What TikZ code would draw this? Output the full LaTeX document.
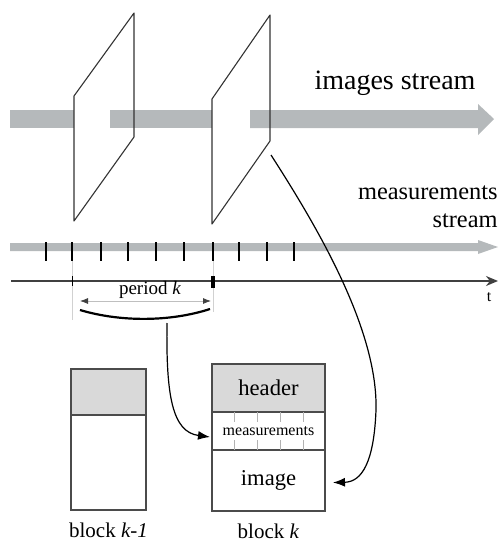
\documentclass[tikz,border=0pt]{standalone}
\usepackage{fontspec}
\setmainfont{Liberation Serif}
\usetikzlibrary{arrows.meta,positioning}

\definecolor{barcol}{RGB}{181,185,187}
\definecolor{hdrcol}{RGB}{217,217,217}
\definecolor{edgecol}{RGB}{75,75,75}

\tikzset{
  framepane/.style={draw=black!80, line width=0.55pt, line join=round},
  cell/.style={draw=edgecol, line width=0.7pt, inner sep=0pt, outer sep=0pt},
  guide/.style={draw=black!18, line width=0.4pt},
  tickmark/.style={draw=black, line width=1.1pt},
  conn/.style={line width=0.6pt, -{Latex[length=6pt,width=4.5pt]}},
  streamlbl/.style={anchor=base east, inner sep=0pt, font=\fontsize{12.2}{14}\selectfont},
}

\begin{document}
\begin{tikzpicture}[x=0.5pt,y=-0.5pt]
\useasboundingbox (0,0) rectangle (499,541);
%
% images stream
\fill[barcol] (10,110) rectangle (74,128);
\fill[barcol] (110,110) rectangle (212,128);
\fill[barcol] (250,110) -- (478,110) -- (478,104) -- (494,119)
  -- (478,135) -- (478,128) -- (250,128) -- cycle;
\node[anchor=base, font=\fontsize{14}{16}\selectfont] (imgtxt) at (395,89) {images stream};
%
% frames
\draw[framepane] (74,96) -- (134,13) -- (134,137) -- (74,221) -- cycle;
\draw[framepane] (212,99) -- (270,15) -- (270,141) -- (212,224) -- cycle;
\coordinate (frameout) at (271,155);
%
% measurements stream
\fill[barcol] (10,243) -- (478,243) -- (478,240) -- (498,247)
  -- (478,254) -- (478,251) -- (10,251) -- cycle;
\foreach \x in {46,72,101,128,156,184,213,239,267,294}
  \draw[tickmark] (\x,242) -- (\x,261);
\node[streamlbl] (meastxt) at (498,199) {measurements};
\node[streamlbl] (meastxt2) at (498,227) {stream};
%
% time axis
\draw[line width=0.8pt, black!75, -{Stealth[length=6pt,width=5pt]}] (11,281) -- (498,281);
\node[font=\fontsize{8}{9}\selectfont] (tlbl) at (489,297) {t};
\draw[guide] (72,261) -- (72,320);
\draw[guide] (213,261) -- (213,312);
\draw[line width=0.4pt] (72,276) -- (72,286);
\fill (211,276) rectangle (215,288);
%
% period k
\draw[black!25, line width=0.4pt,
  {Latex[black!75,length=4pt,width=3pt]}-{Latex[black!75,length=4pt,width=3pt]}]
  (80,301) -- (211,301);
\node[font=\fontsize{9.5}{11}\selectfont] (perlbl) at (150,290) {period \textit{k}};
\draw[line width=1.1pt] (80,310) .. controls (120,322) and (170,322) .. (210,309);
\coordinate (bracetip) at (167,323);
%
% block k-1
\node[cell, fill=hdrcol, minimum width=37.5pt, minimum height=23pt] (prevhdr) at (108.5,392) {};
\node[cell, below=0pt of prevhdr, minimum width=37.5pt, minimum height=47.5pt] (prevbody) {};
\node[below=3pt of prevbody, font=\fontsize{10.5}{12}\selectfont] (prevlbl) {block \textit{k-1}};
%
% block k
\node[cell, fill=hdrcol, minimum width=56.5pt, minimum height=24pt,
  font=\fontsize{11.3}{13}\selectfont] (hdr) at (268.5,388) {header};
\node[cell, below=0pt of hdr, minimum width=56.5pt, minimum height=19pt,
  font=\fontsize{8}{9}\selectfont] (meas) {measurements};
\node[cell, below=0pt of meas, minimum width=56.5pt, minimum height=30.5pt,
  font=\fontsize{11.3}{13}\selectfont] (img) {image};
\node[below=3pt of img, font=\fontsize{10.5}{12}\selectfont] (curlbl) {block \textit{k}};
\foreach \x in {234,257,280,303} {
  \draw[guide, draw=black!30] (\x,412) -- (\x,422);
  \draw[guide, draw=black!30] (\x,440) -- (\x,450);
}
%
% connectors
\draw[conn] (bracetip) .. controls (166,395) and (172,432) .. ([yshift=-3pt, xshift=-1pt]meas.west);
\draw[conn] (frameout) .. controls (318,228) and (378,330) .. (376,410)
  .. controls (374,462) and (362,482) .. ([xshift=4pt, yshift=-1pt]img.east);

\end{tikzpicture}
\end{document}
